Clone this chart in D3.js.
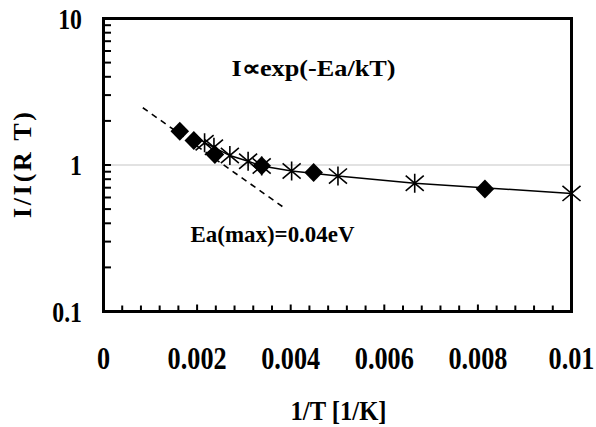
<!DOCTYPE html>
<html><head><meta charset="utf-8">
<script src="https://cdn.jsdelivr.net/npm/d3@7"></script>
<style>body{margin:0;background:#fff}svg{display:block}text{font-family:"Liberation Serif","Times New Roman",serif;font-weight:bold;fill:#000}</style>
</head><body>
<script>
// Data
const diamondX = [0.00163, 0.00193, 0.00238, 0.00338, 0.00449, 0.00815];
const diamondY = [1.70, 1.47, 1.18, 0.99, 0.89, 0.685];
const starX = [0.00216, 0.00236, 0.0027, 0.00309, 0.00338, 0.00402, 0.00501, 0.00665, 0.0100];
const starY = [1.42, 1.32, 1.16, 1.06, 0.985, 0.91, 0.84, 0.75, 0.64];
const dashX = [0.00084, 0.0039];
const dashY = [2.46, 0.50];
const xTicks = [0, 0.002, 0.004, 0.006, 0.008, 0.01];
const xTickLabels = ["0", "0.002", "0.004", "0.006", "0.008", "0.01"];
const yTicks = [0.1, 1, 10];
const yTickLabels = ["0.1", "1", "10"];

const W = 596, H = 427;
const svg = d3.select("body").append("svg").attr("width", W).attr("height", H);
svg.append("rect").attr("width", W).attr("height", H).attr("fill", "#fff");

const x = d3.scaleLinear().domain([0, 0.01]).range([103.5, 571.5]);
const y = d3.scaleLog().domain([0.1, 10]).range([311.5, 18.5]);

// gridline at 1
svg.append("line").attr("x1", x(0)).attr("x2", x(0.01)).attr("y1", y(1)).attr("y2", y(1))
  .attr("stroke", "#d9d9d9").attr("stroke-width", 1.5);

// dashed activation line
const dashPts = dashX.map((d, i) => [d, dashY[i]]);
svg.append("path").attr("d", d3.line().x(d => x(d[0])).y(d => y(d[1]))(dashPts))
  .attr("fill", "none").attr("stroke", "#000").attr("stroke-width", 1.6).attr("stroke-dasharray", "6,5");

// solid line through stars
const starPts = starX.map((d, i) => [d, starY[i]]);
svg.append("path").attr("d", d3.line().x(d => x(d[0])).y(d => y(d[1]))(starPts))
  .attr("fill", "none").attr("stroke", "#000").attr("stroke-width", 1.5);

// diamonds
const dPts = diamondX.map((d, i) => [d, diamondY[i]]);
svg.selectAll(".dia").data(dPts).enter().append("path")
  .attr("transform", d => `translate(${x(d[0])},${y(d[1])})`)
  .attr("d", "M0,-9.5L9.3,0L0,9.5L-9.3,0Z").attr("fill", "#000");

// stars (X + vertical)
const r = 9.5;
svg.selectAll(".star").data(starPts).enter().append("path")
  .attr("transform", d => `translate(${x(d[0])},${y(d[1])})`)
  .attr("d", `M0,${-r}L0,${r}M${-r * 0.95},${-r * 0.8}L${r * 0.95},${r * 0.8}M${-r * 0.95},${r * 0.8}L${r * 0.95},${-r * 0.8}`)
  .attr("fill", "none").attr("stroke", "#000").attr("stroke-width", 1.6);

// frame
svg.append("rect").attr("x", x(0)).attr("y", y(10)).attr("width", x(0.01) - x(0)).attr("height", y(0.1) - y(10))
  .attr("fill", "none").attr("stroke", "#000").attr("stroke-width", 3);

// x ticks (inside)
const xMinor = d3.range(0, 26).map(i => i * 0.0004);
svg.selectAll(".xt").data(xMinor).enter().append("line")
  .attr("x1", d => x(d)).attr("x2", d => x(d))
  .attr("y1", y(0.1)).attr("y2", (d, i) => y(0.1) - (i % 5 === 0 ? 7 : 6))
  .attr("stroke", "#000").attr("stroke-width", 2);

// y ticks (inside, log minors)
const yMinor = [];
[0.1, 1].forEach(b => { for (let k = 1; k <= 9; k++) yMinor.push(b * k); });
yMinor.push(10);
svg.selectAll(".yt").data(yMinor).enter().append("line")
  .attr("x1", x(0)).attr("x2", x(0) + 7.5)
  .attr("y1", d => y(d)).attr("y2", d => y(d))
  .attr("stroke", "#000").attr("stroke-width", 2);

// tick labels
svg.selectAll(".xl").data(xTicks).enter().append("text")
  .attr("transform", d => `translate(${x(d)},368.5) scale(0.82,1)`)
  .attr("text-anchor", "middle").style("font-size", "32px")
  .text((d, i) => xTickLabels[i]);
svg.selectAll(".yl").data(yTicks).enter().append("text")
  .attr("transform", d => `translate(82,${y(d) + 10}) scale(0.82,1)`)
  .attr("text-anchor", "end").style("font-size", "29px")
  .text((d, i) => yTickLabels[i]);

// axis titles
svg.append("text").attr("transform", "translate(338.5,420) scale(0.88,1)")
  .attr("text-anchor", "middle").style("font-size", "28px").text("1/T [1/K]");
svg.append("text").attr("transform", "translate(30.5,165) rotate(-90)")
  .attr("text-anchor", "middle").style("font-size", "26px")
  .attr("textLength", 106).attr("lengthAdjust", "spacing").text("I/I(R T)");

// annotations
svg.append("text").attr("x", 231.5).attr("y", 75.5).style("font-size", "23px")
  .attr("textLength", 164).attr("lengthAdjust", "spacingAndGlyphs").text("I\u221Dexp(-Ea/kT)");
svg.append("text").attr("x", 190.5).attr("y", 241.5).style("font-size", "24px")
  .attr("textLength", 164).attr("lengthAdjust", "spacingAndGlyphs").text("Ea(max)=0.04eV");
</script>
</body></html>
